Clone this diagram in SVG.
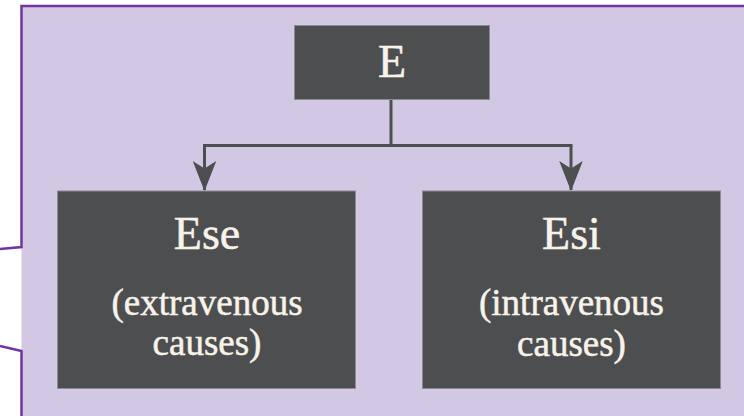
<svg xmlns="http://www.w3.org/2000/svg" width="744" height="416" viewBox="0 0 744 416">
<style>
.box{fill:#4d4e50;stroke:#8c8a92;stroke-width:1}
.t{font-family:"Liberation Serif","Times New Roman",serif;fill:#f7f3ea;stroke:#f7f3ea;stroke-width:0.5;text-anchor:middle}
.big{font-size:46px}
.small{font-size:37px}
.conn{fill:none;stroke:#4d4e50;stroke-width:3}
</style>
<defs>
<marker id="arr" markerUnits="userSpaceOnUse" markerWidth="30" markerHeight="24" refX="27" refY="11" orient="auto" viewBox="0 0 28 22">
<path d="M0,0 L7,11 L0,22 L28,11 Z" fill="#4d4e50"/>
</marker>
</defs>
<g id="frame">
<path d="M21.5,416 L21.5,6 L744,6 L744,416 Z" fill="#d3c8e3"/>
<path d="M0,249 L21.5,247 L21.5,6 L744,6" fill="none" stroke="#7035a2" stroke-width="2.5"/>
<path d="M0,346 L21.5,351 L21.5,416" fill="none" stroke="#7035a2" stroke-width="2.5"/>
</g>
<g id="connectors">
<path class="conn" d="M391,100 L391,145.5"/>
<path class="conn" d="M203,145.5 L572.5,145.5"/>
<path class="conn" d="M204.5,145.5 L204.5,190" marker-end="url(#arr)"/>
<path class="conn" d="M571,145.5 L571,190" marker-end="url(#arr)"/>
</g>
<g id="node-E">
<rect class="box" x="294.5" y="25.5" width="195" height="74"/>
<text class="t big" x="392" y="77">E</text>
</g>
<g id="node-Ese">
<rect class="box" x="57.5" y="191" width="298" height="197.5"/>
<text class="t big" x="207" y="248.5">Ese</text>
<text class="t small" x="207" y="315">(extravenous</text>
<text class="t small" x="207" y="355">causes)</text>
</g>
<g id="node-Esi">
<rect class="box" x="422.5" y="191" width="298" height="197.5"/>
<text class="t big" x="571.5" y="248.5">Esi</text>
<text class="t small" x="571.5" y="314.5">(intravenous</text>
<text class="t small" x="571.5" y="355.5">causes)</text>
</g>
</svg>
